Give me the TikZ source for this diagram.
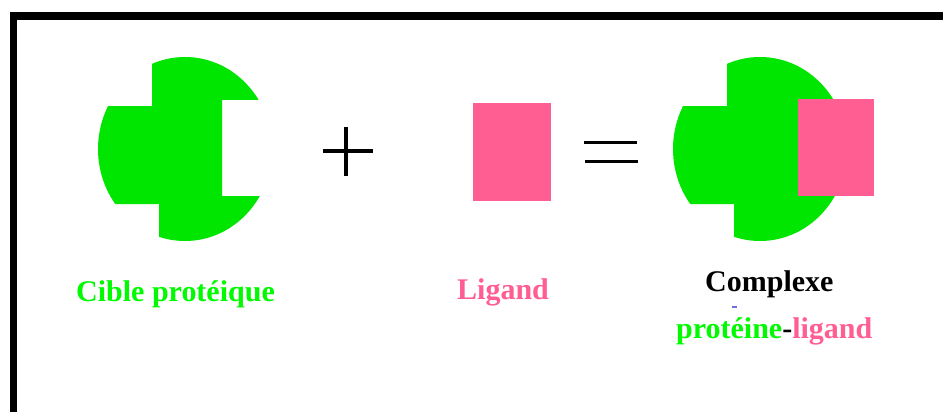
\documentclass[tikz,border=0pt]{standalone}
\usepackage{fontspec}
\setmainfont{Liberation Serif}
\definecolor{protgreen}{RGB}{0,230,0}
\definecolor{textgreen}{RGB}{0,250,0}
\definecolor{ligpink}{RGB}{255,94,146}
\definecolor{dashblue}{RGB}{110,110,230}
\begin{document}
\begin{tikzpicture}[x=1pt,y=-1pt,
  lbl/.style={anchor=base west,inner sep=0pt,font=\fontsize{30}{36}\selectfont\bfseries},
  symb/.style={line width=3.6pt,black},
  ligandbox/.style={fill=ligpink,draw=none}]
\useasboundingbox (0,0) rectangle (943,412);
\fill[white] (0,0) rectangle (943,412);
% frame
\fill[black] (9.8,12.5) rectangle (943,20);
\fill[black] (9.8,12.5) rectangle (17.3,412);
% protein target
\begin{scope}
  \clip (152,40) -- (300,40) -- (300,100) -- (222,100) -- (222,196) -- (300,196)
        -- (300,260) -- (159,260) -- (159,204) -- (80,204) -- (80,106) -- (152,106) -- cycle;
  \fill[protgreen] (185,149) ellipse [x radius=87, y radius=92];
\end{scope}
% plus
\draw[symb] (323,150.7) -- (373,150.7);
\draw[symb] (346,127) -- (346,176);
% ligand
\fill[ligandbox] (473,103) rectangle (551,201);
% equals
\draw[symb] (584,142.5) -- (637,142.5);
\draw[symb] (585,161.3) -- (638,161.3);
% complex
\begin{scope}[xshift=575pt]
  \clip (152,40) -- (320,40) -- (320,260) -- (159,260) -- (159,204) -- (80,204)
        -- (80,106) -- (152,106) -- cycle;
  \fill[protgreen] (185,149) ellipse [x radius=87, y radius=92];
\end{scope}
\fill[ligandbox] (798,99) rectangle (874,196);
% labels
\node[lbl,text=textgreen] (cible) at (76,301) {Cible protéique};
\node[lbl,text=ligpink] (ligand) at (457,299) {Ligand};
\node[lbl,text=black] (complexe) at (705,291) {Complexe};
\fill[dashblue] (732,306) rectangle (737,308);
\node[lbl] (plig) at (676,338) {\textcolor{textgreen}{protéine}\textcolor{black}{-}\textcolor{ligpink}{ligand}};
\end{tikzpicture}
\end{document}
